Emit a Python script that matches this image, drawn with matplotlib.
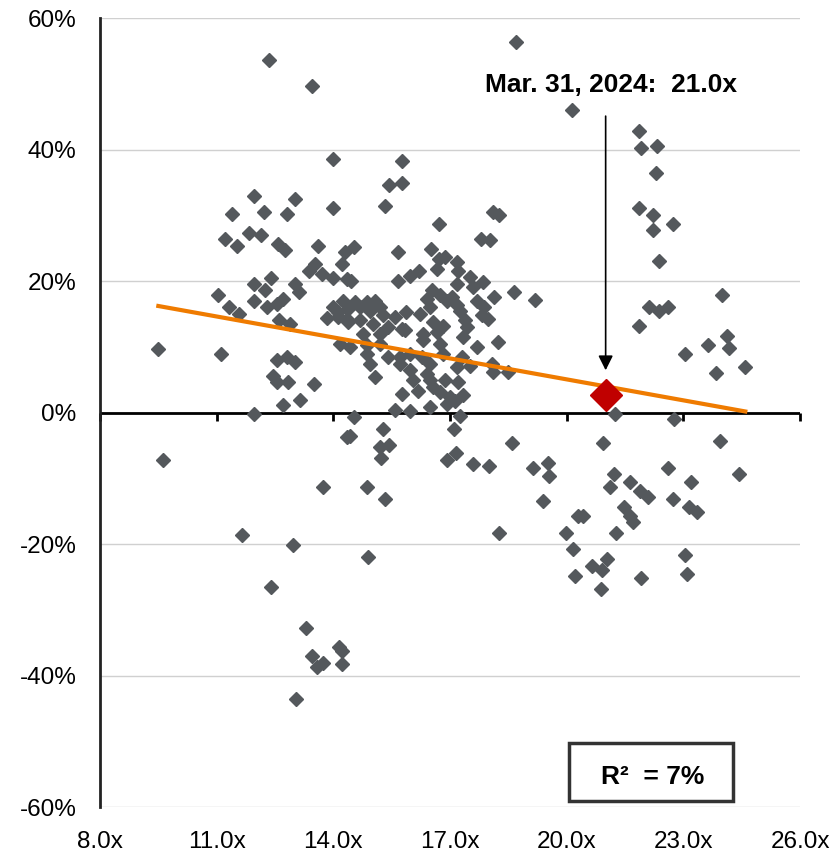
import matplotlib
matplotlib.use("Agg")
import matplotlib.pyplot as plt
import numpy as np
from matplotlib.ticker import FuncFormatter
from matplotlib.patches import Rectangle

plt.rcParams['font.family'] = ['Liberation Sans', 'DejaVu Sans']

# forward P/E (x) vs subsequent 1-yr return in % (y)
pe_ratio = [
    11.39, 12.22, 12.82, 13.98, 13.01, 11.96, 11.21, 11.53, 11.84, 12.13,
    12.58, 12.76, 13.61, 14.30, 13.53, 13.38, 13.70, 14.00, 14.21, 14.34,
    11.96, 12.40, 12.24, 13.01, 13.12, 11.04, 11.96, 11.32, 11.58, 12.29,
    12.54, 12.71, 12.61, 12.89, 14.00, 14.13, 13.83, 14.34, 14.17, 9.50,
    11.10, 12.54, 12.82, 13.01, 12.46, 12.54, 12.84, 13.50, 13.14, 12.70,
    11.96,
    12.35, 13.46, 14.00, 18.70, 20.14, 15.76, 15.44, 15.76, 15.33, 18.11,
    18.25, 21.85, 21.91, 22.33, 22.29, 21.86, 22.23, 22.72, 22.23, 22.38,
    23.99, 22.12, 22.38, 22.61, 21.86, 24.11, 24.16, 23.63, 23.03, 24.59,
    23.83, 21.24, 22.77,
    16.72, 17.80, 18.03, 14.53, 15.65, 16.51, 16.72, 16.87, 17.17, 16.66,
    17.21, 16.19, 15.97, 15.67, 14.45, 17.51, 17.84, 17.60, 18.13, 18.65,
    19.19, 16.53, 16.74, 16.40, 17.17, 17.04, 16.91, 14.26, 14.56, 14.86,
    15.07, 14.38, 14.69, 14.94, 15.20, 15.28, 15.59, 15.87, 16.23, 16.49,
    17.17, 17.26, 17.69, 17.86, 17.82, 17.98, 14.13, 14.38, 14.69, 15.03,
    15.41, 15.76, 14.77, 15.20, 16.57, 16.83, 17.39, 17.43, 17.34, 16.31,
    16.66, 15.84, 14.43, 14.86, 15.20, 16.31, 16.74, 17.69, 18.22, 14.86,
    15.71, 15.97, 16.27, 16.83, 17.30, 14.94, 15.41, 15.71, 16.49, 17.17,
    17.51, 18.07, 18.11, 18.50, 15.07, 15.97, 16.06, 16.40, 16.49, 17.21,
    16.87, 15.76, 16.18, 16.74, 17.34, 15.59, 15.97, 16.49, 16.91, 17.13,
    16.57, 17.00, 14.52, 17.26,
    14.43, 15.27, 15.20, 15.44, 15.22, 17.09, 16.93, 17.15, 17.58, 18.01,
    18.58, 19.12, 19.51, 19.55, 19.40, 14.86, 15.33, 18.27, 19.98, 20.15,
    20.21, 14.90, 20.30,
    20.94, 23.94, 21.22, 21.11, 21.63, 21.89, 22.10, 22.60, 23.19, 22.72,
    23.13, 23.34, 24.43, 21.46, 21.63, 21.71, 21.27, 20.41, 21.03, 20.64,
    20.90, 20.88, 21.91, 23.04, 23.08,
    9.61, 13.73, 11.64, 12.97, 12.39, 13.30, 13.44, 13.57, 13.73, 14.15,
    14.21, 14.21, 13.04, 14.34,
]
fwd_return = [
    30.2, 30.5, 30.2, 31.1, 32.4, 33.0, 26.4, 25.4, 27.3, 27.0,
    25.7, 24.7, 25.4, 24.4, 22.6, 21.5, 21.0, 20.5, 22.6, 20.3,
    19.5, 20.4, 18.6, 19.6, 18.3, 17.8, 16.9, 16.0, 15.0, 16.0,
    16.5, 17.3, 14.0, 13.4, 16.0, 15.3, 14.4, 14.3, 10.4, 9.6,
    8.9, 8.0, 8.5, 7.7, 5.6, 4.6, 4.6, 4.4, 1.9, 1.1,
    -0.3,
    53.6, 49.7, 38.6, 56.4, 46.0, 38.3, 34.6, 34.9, 31.4, 30.5,
    30.0, 42.8, 40.3, 40.6, 36.5, 31.1, 30.0, 28.6, 27.8, 23.1,
    17.8, 16.1, 15.5, 16.1, 13.1, 11.6, 9.8, 10.2, 8.9, 7.0,
    6.0, -0.2, -1.0,
    28.6, 26.4, 26.3, 25.1, 24.4, 24.8, 23.4, 23.6, 22.9, 21.9,
    21.6, 21.6, 20.7, 20.0, 20.0, 20.6, 19.8, 19.1, 17.5, 18.4,
    17.1, 18.6, 17.8, 17.3, 19.6, 17.5, 17.0, 17.0, 16.8, 16.8,
    17.0, 15.8, 16.0, 15.5, 16.0, 14.8, 14.5, 15.3, 15.0, 16.0,
    16.3, 15.5, 17.0, 16.0, 14.8, 14.3, 14.5, 13.7, 14.0, 13.5,
    13.0, 12.7, 12.0, 12.0, 13.7, 13.2, 14.0, 13.0, 11.5, 12.0,
    12.2, 12.5, 9.9, 10.2, 10.4, 11.0, 10.4, 9.9, 10.8, 8.9,
    8.4, 8.9, 8.4, 8.9, 8.4, 7.4, 8.4, 7.4, 7.4, 6.9,
    7.1, 7.4, 6.1, 6.1, 5.4, 6.4, 4.9, 5.9, 4.9, 4.6,
    4.9, 2.8, 3.3, 3.1, 2.6, 0.4, 0.2, 0.8, 1.3, 1.8,
    3.9, 2.3, -0.7, -0.6,
    -3.5, -2.5, -5.3, -4.9, -6.9, -2.5, -7.2, -6.2, -7.8, -8.2,
    -4.7, -8.5, -7.7, -9.7, -13.5, -11.3, -13.2, -18.3, -18.3, -20.8,
    -24.8, -22.0, -15.7,
    -4.7, -4.4, -9.3, -11.4, -10.6, -11.9, -12.9, -8.5, -10.6, -13.2,
    -14.4, -15.2, -9.3, -14.4, -15.7, -16.7, -18.3, -15.8, -22.3, -23.3,
    -24.0, -26.8, -25.2, -21.6, -24.5,
    -7.2, -11.3, -18.6, -20.2, -26.5, -32.8, -37.1, -38.7, -38.1, -35.6,
    -36.3, -38.2, -43.5, -3.7,
]

# trend line as shown on the chart (fitted on the full history)
trend_slope = -1.063
trend_intercept = 26.3

current_pe = 21.0
current_return = 2.6
current_label = "Mar. 31, 2024:  21.0x"
r2_label = "R\u00b2  = 7%"

x_ticks = [8, 11, 14, 17, 20, 23, 26]
y_ticks = [-60, -40, -20, 0, 20, 40, 60]

pe_ratio = np.array(pe_ratio)
fwd_return = np.array(fwd_return)

fig = plt.figure(figsize=(8.36, 8.58), dpi=100)
ax = fig.add_axes([0.1196, 0.0594, 0.8375, 0.9196])

ax.set_xlim(8, 26)
ax.set_ylim(-60, 60)
ax.set_yticks(y_ticks)
ax.set_xticks(x_ticks)
ax.yaxis.set_major_formatter(FuncFormatter(lambda v, p: f"{v:.0f}%"))
ax.xaxis.set_major_formatter(FuncFormatter(lambda v, p: f"{v:.1f}x"))
ax.tick_params(axis='both', length=0, labelsize=17.5, colors='black')
ax.tick_params(axis='y', pad=17)
ax.tick_params(axis='x', pad=17)
ax.grid(axis='y', color='#d0d0d0', linewidth=1)
ax.set_axisbelow(True)
for s in ['top', 'right', 'bottom']:
    ax.spines[s].set_visible(False)
ax.spines['left'].set_color('#222222')
ax.spines['left'].set_linewidth(2)

# x axis line at 0% with its tick marks
ax.axhline(0, color='black', linewidth=2, zorder=2)
zero_axis = ax.secondary_xaxis(0.5)
zero_axis.set_alignment('bottom')
zero_axis.set_xticks(x_ticks)
zero_axis.tick_params(direction='out', length=6, width=2, labelbottom=False,
                      labeltop=False, color='black')
zero_axis.spines['bottom'].set_visible(False)

ax.plot(pe_ratio, fwd_return, linestyle='none', marker='D', markersize=7.5,
        color='#54585c', zorder=3)

trend_x = np.array([pe_ratio.min(), pe_ratio.max()])
ax.plot(trend_x, trend_slope * trend_x + trend_intercept, color='#ef7b00',
        linewidth=3, zorder=4)

ax.plot([current_pe], [current_return], linestyle='none', marker='D', markersize=16,
        color='#c00000', zorder=5)

ax.annotate('', xy=(current_pe, 6), xytext=(current_pe, 45.5),
            arrowprops=dict(arrowstyle='-|>', color='black', lw=1.2, mutation_scale=22))
ax.text(current_pe + 0.15, 48.7, current_label, ha='center', va='baseline', fontsize=19,
        fontweight='bold')

ax.add_patch(Rectangle((0.670, 0.0076), 0.234, 0.0735, transform=ax.transAxes,
                       facecolor='white', edgecolor='#333333', linewidth=2.5, zorder=6))
ax.text(0.790, 0.038, r2_label, transform=ax.transAxes, ha='center', va='center',
        fontsize=19, fontweight='bold', zorder=7)

fig.savefig('out.png', dpi=100)
